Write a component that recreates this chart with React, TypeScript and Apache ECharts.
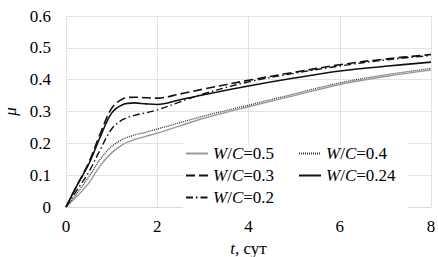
import React, { useEffect, useRef } from "react";
import * as echarts from "echarts";

const tDays = [0, 0.25, 0.5, 0.75, 1, 1.25, 1.5, 1.75, 2, 2.5, 3, 4, 5, 6, 7, 8];
const wc05 = [0, 0.035, 0.075, 0.13, 0.17, 0.197, 0.212, 0.222, 0.232, 0.255, 0.278, 0.315, 0.35, 0.385, 0.41, 0.43];
const wc04 = [0, 0.045, 0.095, 0.15, 0.19, 0.213, 0.226, 0.235, 0.245, 0.265, 0.285, 0.32, 0.355, 0.39, 0.415, 0.435];
const wc03 = [0, 0.07, 0.14, 0.23, 0.31, 0.34, 0.345, 0.343, 0.342, 0.355, 0.37, 0.398, 0.423, 0.447, 0.465, 0.479];
const wc024 = [0, 0.07, 0.135, 0.22, 0.295, 0.322, 0.327, 0.324, 0.322, 0.337, 0.352, 0.38, 0.405, 0.427, 0.442, 0.455];
const wc02 = [0, 0.055, 0.11, 0.18, 0.245, 0.275, 0.288, 0.296, 0.305, 0.33, 0.355, 0.393, 0.42, 0.443, 0.462, 0.476];
const seriesNames = ["W/C=0.5", "W/C=0.4", "W/C=0.3", "W/C=0.24", "W/C=0.2"];

const FONT = "serif";

export default function App() {
  const ref = useRef<HTMLDivElement>(null);
  useEffect(() => {
    if (!ref.current) return;
    const chart = echarts.init(ref.current, undefined, { renderer: "svg" });
    const pts = (vals: number[]) => tDays.map((t, i) => [t, vals[i]]);
    const mk = (name: string, vals: number[], color: string, type: any, width: number) => ({
      name,
      type: "line",
      data: pts(vals),
      smooth: 0.35,
      symbol: "none",
      lineStyle: { color, type, width },
      itemStyle: { color },
      z: 3,
    });
    const italic = () => ({ fontFamily: FONT, fontSize: 17, fontStyle: "italic", color: "#000" });
    chart.setOption({
      animation: false,
      textStyle: { fontFamily: FONT },
      grid: { left: 66, right: 7, top: 16, bottom: 50, outerBoundsMode: "none", containLabel: false },
      xAxis: {
        type: "value",
        min: 0,
        max: 8,
        interval: 2,
        name: "{i|t}, сут",
        nameLocation: "middle",
        nameGap: 24,
        nameTextStyle: { fontFamily: FONT, fontSize: 17, color: "#000", rich: { i: italic() } },
        axisLine: { show: true, lineStyle: { color: "#d9d9d9" } },
        axisTick: { show: false },
        axisLabel: { fontFamily: FONT, fontSize: 17, color: "#000", margin: 11 },
        splitLine: { show: true, lineStyle: { color: "#e3e3e3" } },
      },
      yAxis: {
        type: "value",
        min: 0,
        max: 0.6,
        interval: 0.1,
        name: "μ",
        nameLocation: "middle",
        nameGap: 47,
        nameRotate: 90,
        nameTextStyle: italic(),
        axisLine: { show: false },
        axisTick: { show: false },
        axisLabel: {
          fontFamily: FONT,
          fontSize: 17,
          color: "#000",
          margin: 15,
          formatter: (v: number) => (v === 0 ? "0" : v.toFixed(1)),
        },
        splitLine: { show: true, lineStyle: { color: "#e3e3e3" } },
      },
      legend: {
        data: seriesNames,
        left: 183,
        top: 143,
        width: 225,
        orient: "horizontal",
        itemWidth: 22,
        itemHeight: 14,
        itemGap: 5,
        padding: [2, 2, 2, 2],
        backgroundColor: "#fff",
        itemStyle: { opacity: 0 },
        formatter: (name: string) => "{i|W}/{i|C}" + name.slice(3),
        textStyle: {
          fontFamily: FONT,
          fontSize: 17,
          color: "#000",
          width: 80,
          lineHeight: 16,
          rich: { i: italic() },
        },
      },
      series: [
        mk(seriesNames[0], wc05, "#9a9a9a", "solid", 1.4),
        mk(seriesNames[1], wc04, "#333", [1, 1], 1.3),
        mk(seriesNames[2], wc03, "#111", [9, 4], 1.6),
        mk(seriesNames[3], wc024, "#111", "solid", 1.6),
        mk(seriesNames[4], wc02, "#111", [7, 3, 1.5, 3], 1.4),
      ],
    });
    return () => chart.dispose();
  }, []);
  return <div ref={ref} style={{ width: 438, height: 257, position: "absolute", left: 0, top: 0 }} />;
}
